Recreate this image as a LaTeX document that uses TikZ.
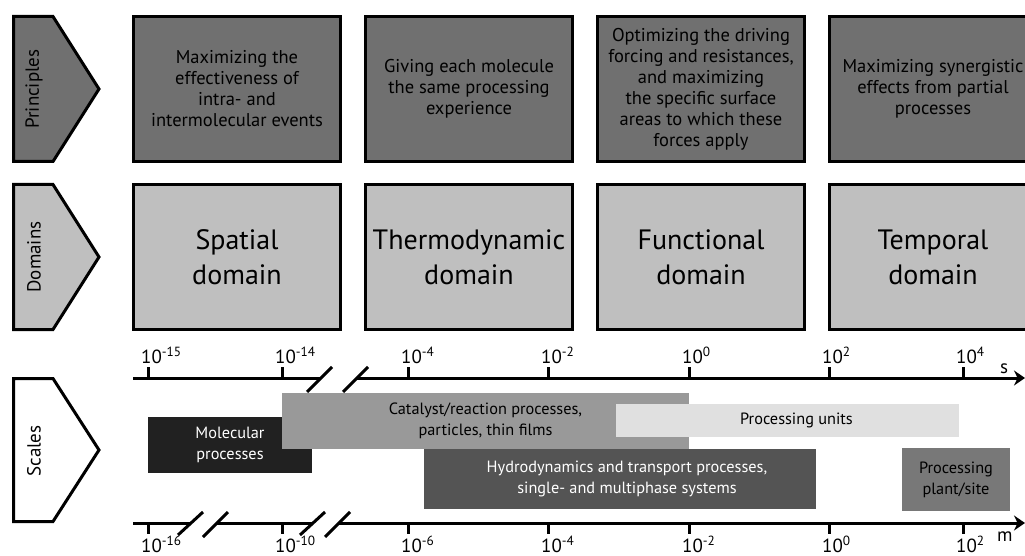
\documentclass[tikz,border=0pt]{standalone}
\usepackage{fontspec}
\setmainfont{PT Sans}
\usetikzlibrary{arrows.meta}
\definecolor{princ}{gray}{0.44}
\definecolor{dom}{gray}{0.75}
\definecolor{molec}{gray}{0.13}
\definecolor{catal}{gray}{0.6}
\definecolor{units}{gray}{0.88}
\definecolor{hydro}{gray}{0.33}
\definecolor{plant}{gray}{0.47}
\begin{document}
\begin{tikzpicture}[x=1pt,y=-1pt,>={Stealth[length=11pt,width=15pt]},
	tag/.style={draw,line width=3pt,line join=miter},
	taglabel/.style={rotate=90,inner sep=0pt,font=\fontsize{19}{19}\selectfont},
	pbox/.style={draw,line width=3.4pt,fill=princ,minimum width=207pt,minimum height=145pt,inner sep=0pt,align=center,font=\fontsize{18.5}{21}\selectfont},
	dbox/.style={pbox,fill=dom,font=\fontsize{28}{35}\selectfont},
	bar/.style={inner sep=0pt,align=center,font=\fontsize{16.3}{21}\selectfont},
	ax/.style={line width=3pt},
	ticklabel/.style={inner sep=0pt,anchor=base west,font=\fontsize{19}{19}\selectfont}]
	\clip (0,0) rectangle (1025,556);
	\useasboundingbox (0,0) rectangle (1025,556);
	% left tags
	\draw[tag,fill=princ] (13.5,16.5)--(53,16.5)--(99,89)--(53,161.5)--(13.5,161.5)--cycle;
	\draw[tag,fill=dom] (13.5,184.5)--(53,184.5)--(99,257)--(53,329.5)--(13.5,329.5)--cycle;
	\draw[tag,fill=white] (13.5,378.5)--(53,378.5)--(99,450)--(53,521.5)--(13.5,521.5)--cycle;
	\node[taglabel] (tprinc) at (34,89) {Principles};
	\node[taglabel] (tdom) at (34,257) {Domains};
	\node[taglabel] (tscal) at (34,451) {Scales};
	% principles and domains
	\node[pbox] (p1) at (237,89) {Maximizing the\\effectiveness of\\intra- and\\intermolecular events};
	\node[pbox] (p2) at (469,89) {Giving each molecule\\the same processing\\experience};
	\node[pbox] (p3) at (701,89) {Optimizing the driving\\forcing and resistances,\\and maximizing\\the specific surface\\areas to which these\\forces apply};
	\node[pbox] (p4) at (933,89) {Maximizing synergistic\\effects from partial\\processes};
	\node[dbox] (d1) at (237,257) {Spatial\\domain};
	\node[dbox] (d2) at (469,257) {Thermodynamic\\domain};
	\node[dbox] (d3) at (701,257) {Functional\\domain};
	\node[dbox] (d4) at (933,257) {Temporal\\domain};
	% scale bars
	\node[bar,fill=molec,text=white,minimum width=164pt,minimum height=56pt] (mol) at (230,445) {Molecular\\processes};
	\node[bar,fill=catal,minimum width=407pt,minimum height=56pt] (cat) at (485.5,421) {Catalyst/reaction processes,\\particles, thin films};
	\node[bar,fill=units,minimum width=343pt,minimum height=33pt] (unit) at (787.5,420.5) {\hspace{18pt}Processing units};
	\node[bar,fill=hydro,text=white,minimum width=392pt,minimum height=60pt] (hyd) at (620,479) {\hspace{14pt}Hydrodynamics and transport processes,\\\hspace{14pt}single- and multiphase systems};
	\node[bar,fill=plant,minimum width=108pt,minimum height=63pt] (plt) at (956,479.5) {Processing\\plant/site};
	% time axis
	\coordinate (s0) at (133,378);
	\coordinate (s1) at (320,378);
	\coordinate (s2) at (357,378);
	\coordinate (s3) at (1025,378);
	\draw[ax] (s0)--(s1);
	\draw[ax,->] (s2)--(s3);
	\draw[ax] (307,392)--(332,367) (343,392)--(368,367);
	\foreach \x/\e [count=\i] in {148/-15,282/-14,408/-4,548/-2,689/0,829/2,963/4}{
		\draw[ax] (\x,378)--(\x,367);
		\node[ticklabel] (ts\i) at ({\x-7},363) {10\textsuperscript{\e}};
	}
	\node[ticklabel] (sunit) at (1000,373) {s};
	% length axis
	\coordinate (m0) at (133,523);
	\coordinate (m1) at (191,523);
	\coordinate (m2) at (217,523);
	\coordinate (m3) at (313,523);
	\coordinate (m4) at (339,523);
	\coordinate (m5) at (1025,523);
	\draw[ax] (m0)--(m1) (m2)--(m3);
	\draw[ax,->] (m4)--(m5);
	\draw[ax] (178,535)--(203,512) (203,537)--(228,512) (300,535)--(325,512) (325,537)--(350,512);
	\foreach \x/\e [count=\i] in {148/-16,282/-10,408/-6,548/-4,689/-2,829/0,963/2}{
		\draw[ax] (\x,523)--(\x,534);
		\node[ticklabel] (tm\i) at ({\x-7},552) {10\textsuperscript{\e}};
	}
	\node[ticklabel] (munit) at (997,541) {m};
\end{tikzpicture}
\end{document}
